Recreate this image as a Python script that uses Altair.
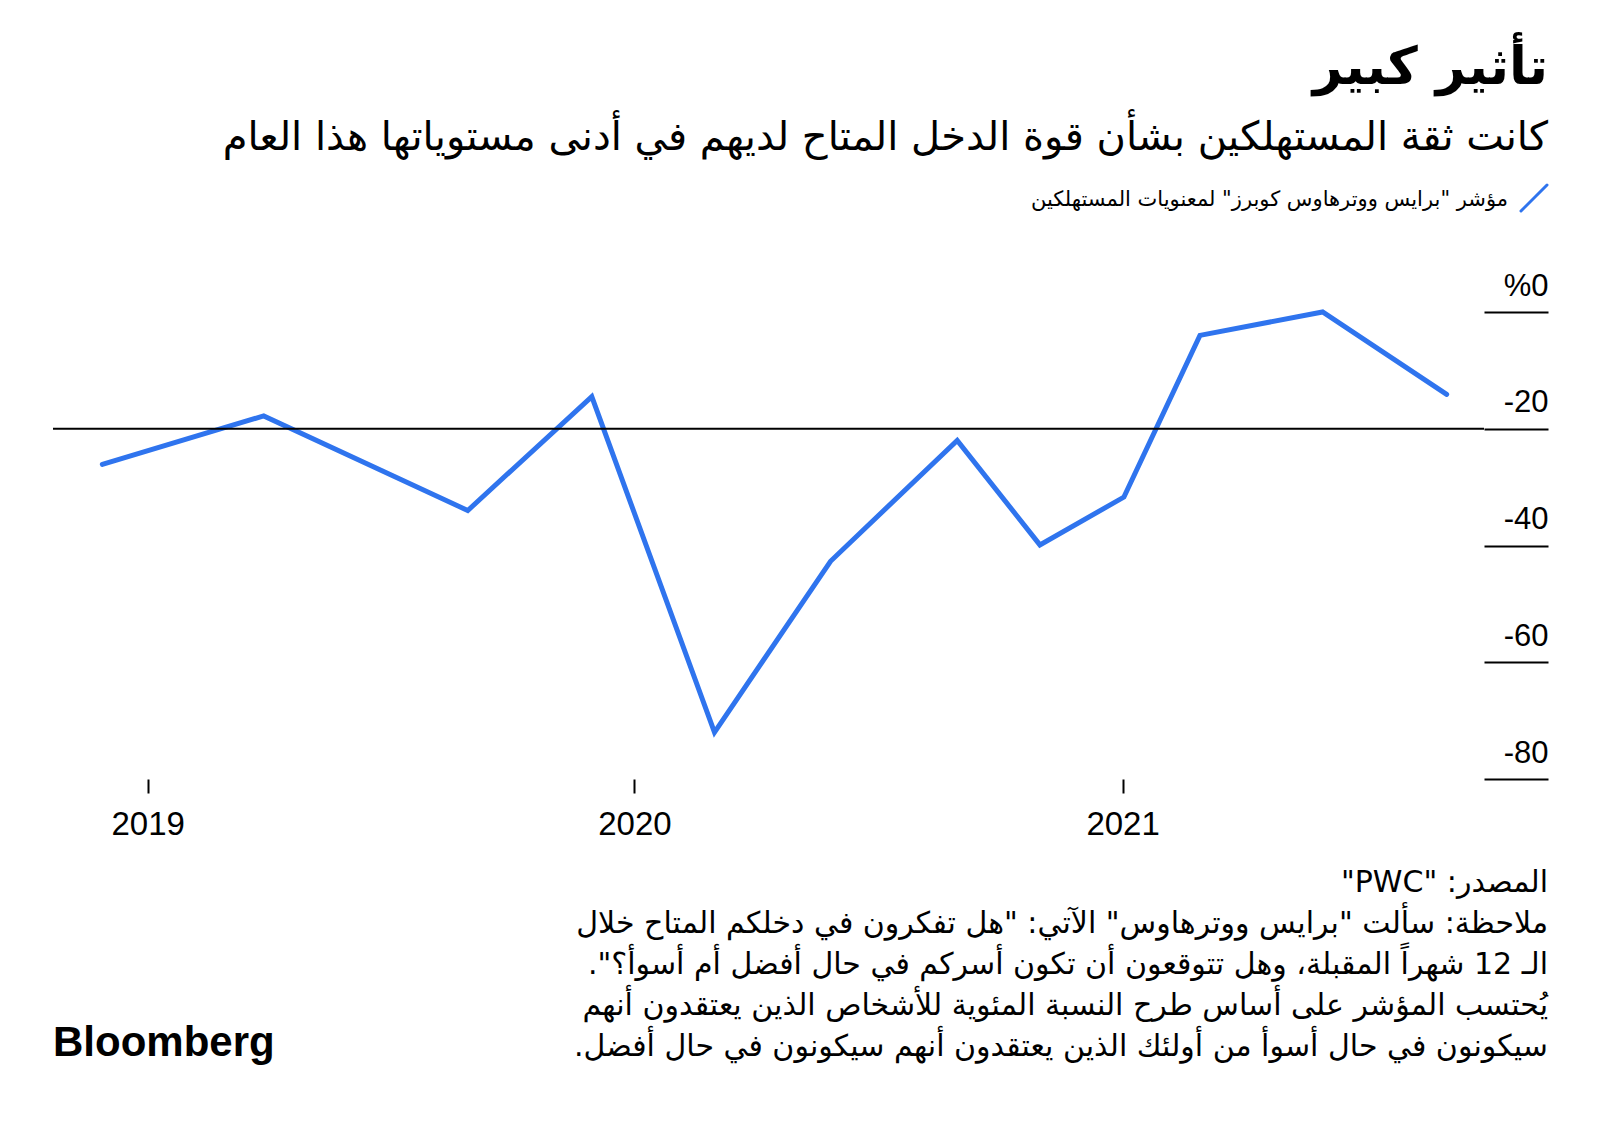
import altair as alt
import pandas as pd

# ---- data ----
dates = ["2018-11-28", "2019-03-29", "2019-08-29", "2019-11-30", "2020-03-01",
         "2020-05-27", "2020-08-30", "2020-10-31", "2021-01-02", "2021-02-28",
         "2021-05-31", "2021-09-01"]
values = [-26.1, -17.8, -34.0, -14.5, -72.0, -42.7, -22.0, -39.9, -31.7, -4.0, 0.0, -14.1]
y_ticks = [0, -20, -40, -60, -80]
x_tick_years = [2019, 2020, 2021]
ref_value = [-20]

title_text = "تأثير كبير"
subtitle_text = "كانت ثقة المستهلكين بشأن قوة الدخل المتاح لديهم في أدنى مستوياتها هذا العام"
legend_text = 'مؤشر "برايس ووترهاوس كوبرز" لمعنويات المستهلكين'
footer_lines = [
    'المصدر: "PWC"',
    'ملاحظة: سألت "برايس ووترهاوس" الآتي: "هل تفكرون في دخلكم المتاح خلال',
    'الـ 12 شهراً المقبلة، وهل تتوقعون أن تكون أسركم في حال أفضل أم أسوأ؟".',
    'يُحتسب المؤشر على أساس  طرح النسبة المئوية للأشخاص الذين يعتقدون أنهم',
    'سيكونون في حال أسوأ من أولئك الذين يعتقدون أنهم سيكونون في حال أفضل.',
]
brand = "Bloomberg"

RLE, PDF = "\u202b", "\u202c"


def rtl(s):
    return RLE + s + PDF


BLUE = "#2f74ee"
AR_FONT = "DejaVu Sans"
NUM_FONT = "Liberation Sans"
W, H = 1431, 467

df = pd.DataFrame({"date": dates, "value": values})

x_scale = alt.Scale(
    type="utc",
    domain=[alt.DateTime(year=2018, month=10, date=22, utc=True),
            alt.DateTime(year=2021, month=9, date=29, utc=True)],
)
y_scale = alt.Scale(domain=[-80, 0], nice=False, zero=False)

y_axis = alt.Axis(
    orient="right", values=y_ticks, domain=False, grid=False,
    tickSize=64, tickColor="black", tickWidth=2,
    labelAlign="right", labelPadding=0, labelOffset=-26, labelBaseline="middle",
    labelFontSize=31, labelFont=NUM_FONT, labelColor="black",
    labelExpr="datum.value == 0 ? '%0' : '' + datum.value", title=None,
)

line = alt.Chart(df).mark_line(color=BLUE, strokeWidth=5, strokeCap="round").encode(
    x=alt.X(
        "date:T",
        scale=x_scale,
        axis=alt.Axis(
            values=[alt.DateTime(year=y, month=1, date=1, utc=True) for y in x_tick_years],
            domain=False, grid=False, tickSize=14, tickColor="black", tickWidth=2,
            labelFontSize=33, labelFont=NUM_FONT, labelColor="black", labelPadding=15,
            labelExpr="utcFormat(datum.value, '%Y')", labelFlush=False, title=None,
        ),
    ),
    y=alt.Y("value:Q", scale=y_scale, axis=y_axis),
)

rule = alt.Chart(pd.DataFrame({"value": ref_value})).mark_rule(
    color="black", strokeWidth=2
).encode(y=alt.Y("value:Q", scale=y_scale, axis=y_axis))


def one():
    return alt.Chart(pd.DataFrame({"k": [0]}))


def text_mark(text, x, y, size, weight="normal", font=AR_FONT, align="right", line_height=None):
    kw = dict(align=align, baseline="alphabetic", fontSize=size, fontWeight=weight,
              font=font, color="black")
    if line_height is not None:
        kw["lineHeight"] = line_height
    return one().mark_text(**kw).encode(
        x=alt.value(x), y=alt.value(y), text=alt.value(text)
    )


title_m = text_mark(rtl(title_text), 1495, -228, 52, weight="bold")
subtitle_m = text_mark(rtl(subtitle_text), 1495, -162, 40)
legend_m = text_mark(rtl(legend_text), 1455, -106, 21)
slash = one().mark_rule(color=BLUE, strokeWidth=3, strokeCap="round").encode(
    x=alt.value(1468), x2=alt.value(1494), y=alt.value(-101), y2=alt.value(-127)
)
footer_m = text_mark([rtl(l) for l in footer_lines], 1495, 580, 30, line_height=41)
brand_m = text_mark(brand, 0, 744, 42, weight="bold", font=NUM_FONT, align="left")

chart = alt.layer(line, rule, title_m, subtitle_m, legend_m, slash, footer_m, brand_m).properties(
    width=W,
    height=H,
    autosize=alt.AutoSizeParams(type="none"),
    padding={"left": 45, "top": 304, "right": 100, "bottom": 330},
    background="white",
).configure_view(stroke=None)

chart.save("out.html", embed_options={"renderer": "svg", "actions": False})
